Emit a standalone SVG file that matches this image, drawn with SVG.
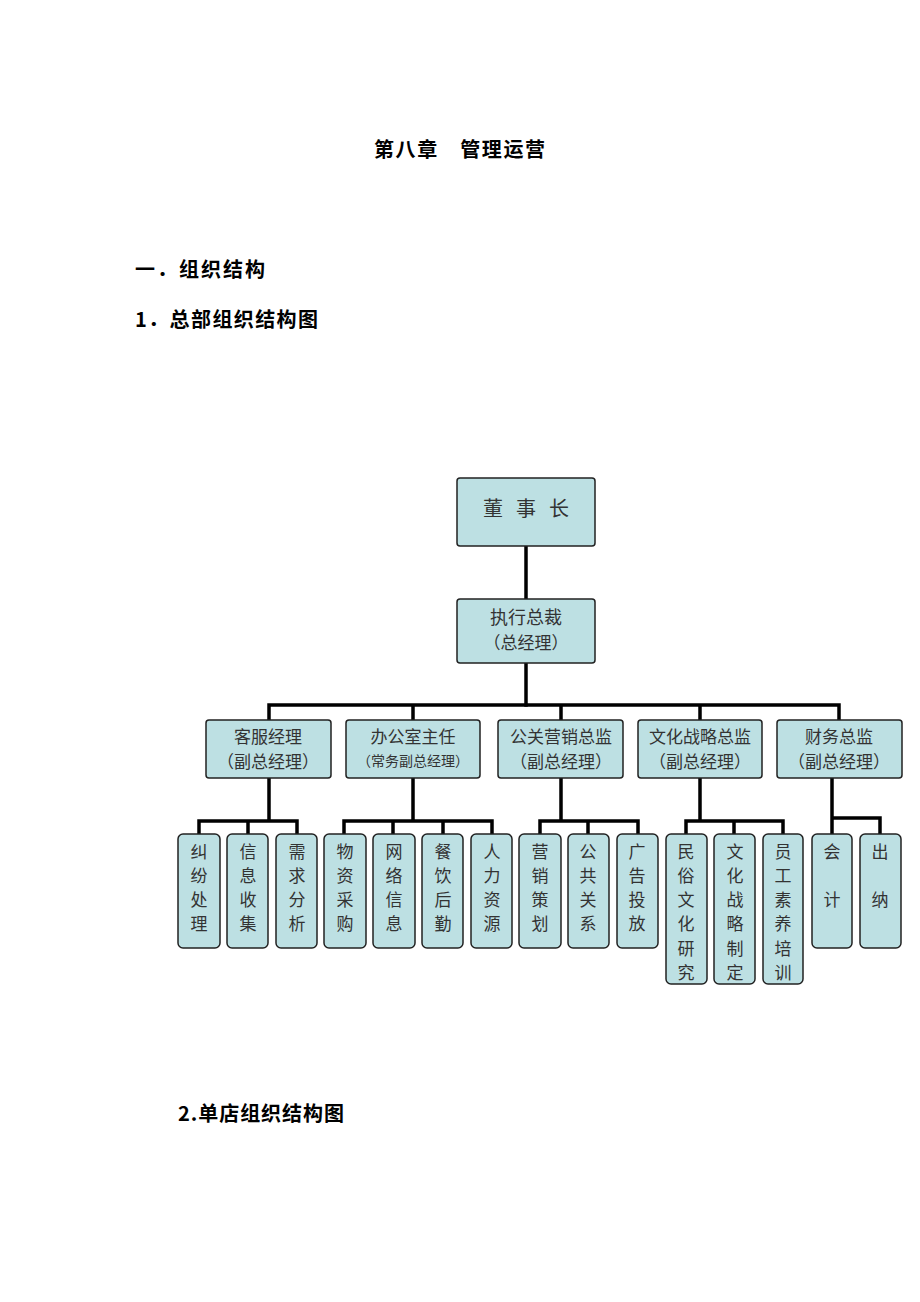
<svg xmlns="http://www.w3.org/2000/svg" width="920" height="1302" viewBox="0 0 920 1302">
<style>
.h{font-family:"Noto Sans CJK SC","Liberation Serif",sans-serif;font-size:20px;font-weight:bold;fill:#000}
.box{fill:#bde0e3;stroke:#222;stroke-width:1.5}
.t{font-family:"Noto Sans CJK SC",sans-serif;fill:#333;text-anchor:middle;dominant-baseline:central}
.t17{font-size:17px}
.t14{font-size:14px}
.t20{font-size:20px}
.lf{font-size:17px}
.ln{stroke:#000;stroke-width:3.5;fill:none;stroke-linecap:square}
</style>
<rect width="920" height="1302" fill="#fff"/>
<g id="headings">
<text class="h" x="374" y="148" dominant-baseline="central" font-size="21" textLength="171" lengthAdjust="spacing">第八章　管理运营</text>
<text class="h" x="135" y="268" dominant-baseline="central" textLength="130" lengthAdjust="spacing">一．组织结构</text>
<text class="h" x="135" y="318" dominant-baseline="central" textLength="183" lengthAdjust="spacing">1．总部组织结构图</text>
<text class="h" x="178" y="1112" dominant-baseline="central" textLength="166" lengthAdjust="spacing">2.单店组织结构图</text>
</g>
<g id="connectors">
<path class="ln" d="M526,546 V599"/>
<path class="ln" d="M526,663 V705"/>
<path class="ln" d="M269,720 V705 H839 V720 M413,705 V720 M561,705 V720 M700,705 V720"/>
<path class="ln" d="M269,778 V821 M199,834 V821 H297 V834 M248,821 V834"/>
<path class="ln" d="M413,778 V821 M344,834 V821 H492 V834 M393,821 V834 M443,821 V834"/>
<path class="ln" d="M561,778 V821 M540,834 V821 H638 V834 M588,821 V834"/>
<path class="ln" d="M700,778 V821 M686,834 V821 H783 V834 M734,821 V834"/>
<path class="ln" d="M832,778 V834 M832,818 H880 V834"/>
</g>
<g id="n-chairman">
<rect class="box" x="457" y="478" width="138" height="68" rx="3"/>
<text class="t t20" x="493" y="507">董</text><text class="t t20" x="526" y="507">事</text><text class="t t20" x="559" y="507">长</text>
</g>
<g id="n-ceo">
<rect class="box" x="457" y="599" width="138" height="64" rx="3"/>
<text class="t" x="526" y="616" font-size="18">执行总裁</text>
<text class="t t17" x="526" y="641">（总经理）</text>
</g>
<g id="n-m1"><rect class="box" x="206" y="720" width="125" height="58" rx="3"/>
<text class="t t17" x="268" y="735">客服经理</text><text class="t t17" x="268" y="760">（副总经理）</text></g>
<g id="n-m2"><rect class="box" x="346" y="720" width="134" height="58" rx="3"/>
<text class="t t17" x="413" y="735">办公室主任</text><text class="t t14" x="413" y="760">（常务副总经理）</text></g>
<g id="n-m3"><rect class="box" x="498" y="720" width="125" height="58" rx="3"/>
<text class="t t17" x="561" y="735">公关营销总监</text><text class="t t17" x="561" y="760">（副总经理）</text></g>
<g id="n-m4"><rect class="box" x="638" y="720" width="124" height="58" rx="3"/>
<text class="t t17" x="700" y="735">文化战略总监</text><text class="t t17" x="700" y="760">（副总经理）</text></g>
<g id="n-m5"><rect class="box" x="777" y="720" width="125" height="58" rx="3"/>
<text class="t t17" x="839" y="735">财务总监</text><text class="t t17" x="839" y="760">（副总经理）</text></g>
<g id="n-l1"><rect class="box" x="178" y="834" width="42" height="114" rx="5"/><text class="t lf" x="199" y="850">纠</text><text class="t lf" x="199" y="874">纷</text><text class="t lf" x="199" y="898">处</text><text class="t lf" x="199" y="922">理</text></g>
<g id="n-l2"><rect class="box" x="227" y="834" width="41" height="114" rx="5"/><text class="t lf" x="248" y="850">信</text><text class="t lf" x="248" y="874">息</text><text class="t lf" x="248" y="898">收</text><text class="t lf" x="248" y="922">集</text></g>
<g id="n-l3"><rect class="box" x="276" y="834" width="41" height="114" rx="5"/><text class="t lf" x="297" y="850">需</text><text class="t lf" x="297" y="874">求</text><text class="t lf" x="297" y="898">分</text><text class="t lf" x="297" y="922">析</text></g>
<g id="n-l4"><rect class="box" x="324" y="834" width="42" height="114" rx="5"/><text class="t lf" x="345" y="850">物</text><text class="t lf" x="345" y="874">资</text><text class="t lf" x="345" y="898">采</text><text class="t lf" x="345" y="922">购</text></g>
<g id="n-l5"><rect class="box" x="373" y="834" width="42" height="114" rx="5"/><text class="t lf" x="394" y="850">网</text><text class="t lf" x="394" y="874">络</text><text class="t lf" x="394" y="898">信</text><text class="t lf" x="394" y="922">息</text></g>
<g id="n-l6"><rect class="box" x="422" y="834" width="41" height="114" rx="5"/><text class="t lf" x="443" y="850">餐</text><text class="t lf" x="443" y="874">饮</text><text class="t lf" x="443" y="898">后</text><text class="t lf" x="443" y="922">勤</text></g>
<g id="n-l7"><rect class="box" x="471" y="834" width="41" height="114" rx="5"/><text class="t lf" x="492" y="850">人</text><text class="t lf" x="492" y="874">力</text><text class="t lf" x="492" y="898">资</text><text class="t lf" x="492" y="922">源</text></g>
<g id="n-l8"><rect class="box" x="519" y="834" width="42" height="114" rx="5"/><text class="t lf" x="540" y="850">营</text><text class="t lf" x="540" y="874">销</text><text class="t lf" x="540" y="898">策</text><text class="t lf" x="540" y="922">划</text></g>
<g id="n-l9"><rect class="box" x="568" y="834" width="41" height="114" rx="5"/><text class="t lf" x="588" y="850">公</text><text class="t lf" x="588" y="874">共</text><text class="t lf" x="588" y="898">关</text><text class="t lf" x="588" y="922">系</text></g>
<g id="n-l10"><rect class="box" x="617" y="834" width="41" height="114" rx="5"/><text class="t lf" x="637" y="850">广</text><text class="t lf" x="637" y="874">告</text><text class="t lf" x="637" y="898">投</text><text class="t lf" x="637" y="922">放</text></g>
<g id="n-l11"><rect class="box" x="666" y="834" width="41" height="150" rx="5"/><text class="t lf" x="686" y="850">民</text><text class="t lf" x="686" y="874">俗</text><text class="t lf" x="686" y="898">文</text><text class="t lf" x="686" y="922">化</text><text class="t lf" x="686" y="947">研</text><text class="t lf" x="686" y="971">究</text></g>
<g id="n-l12"><rect class="box" x="714" y="834" width="41" height="150" rx="5"/><text class="t lf" x="735" y="850">文</text><text class="t lf" x="735" y="874">化</text><text class="t lf" x="735" y="898">战</text><text class="t lf" x="735" y="922">略</text><text class="t lf" x="735" y="947">制</text><text class="t lf" x="735" y="971">定</text></g>
<g id="n-l13"><rect class="box" x="763" y="834" width="40" height="150" rx="5"/><text class="t lf" x="783" y="850">员</text><text class="t lf" x="783" y="874">工</text><text class="t lf" x="783" y="898">素</text><text class="t lf" x="783" y="922">养</text><text class="t lf" x="783" y="947">培</text><text class="t lf" x="783" y="971">训</text></g>
<g id="n-l14"><rect class="box" x="812" y="834" width="40" height="114" rx="5"/><text class="t lf" x="832" y="850">会</text><text class="t lf" x="832" y="898">计</text></g>
<g id="n-l15"><rect class="box" x="860" y="834" width="41" height="114" rx="5"/><text class="t lf" x="880" y="850">出</text><text class="t lf" x="880" y="898">纳</text></g>
</svg>
